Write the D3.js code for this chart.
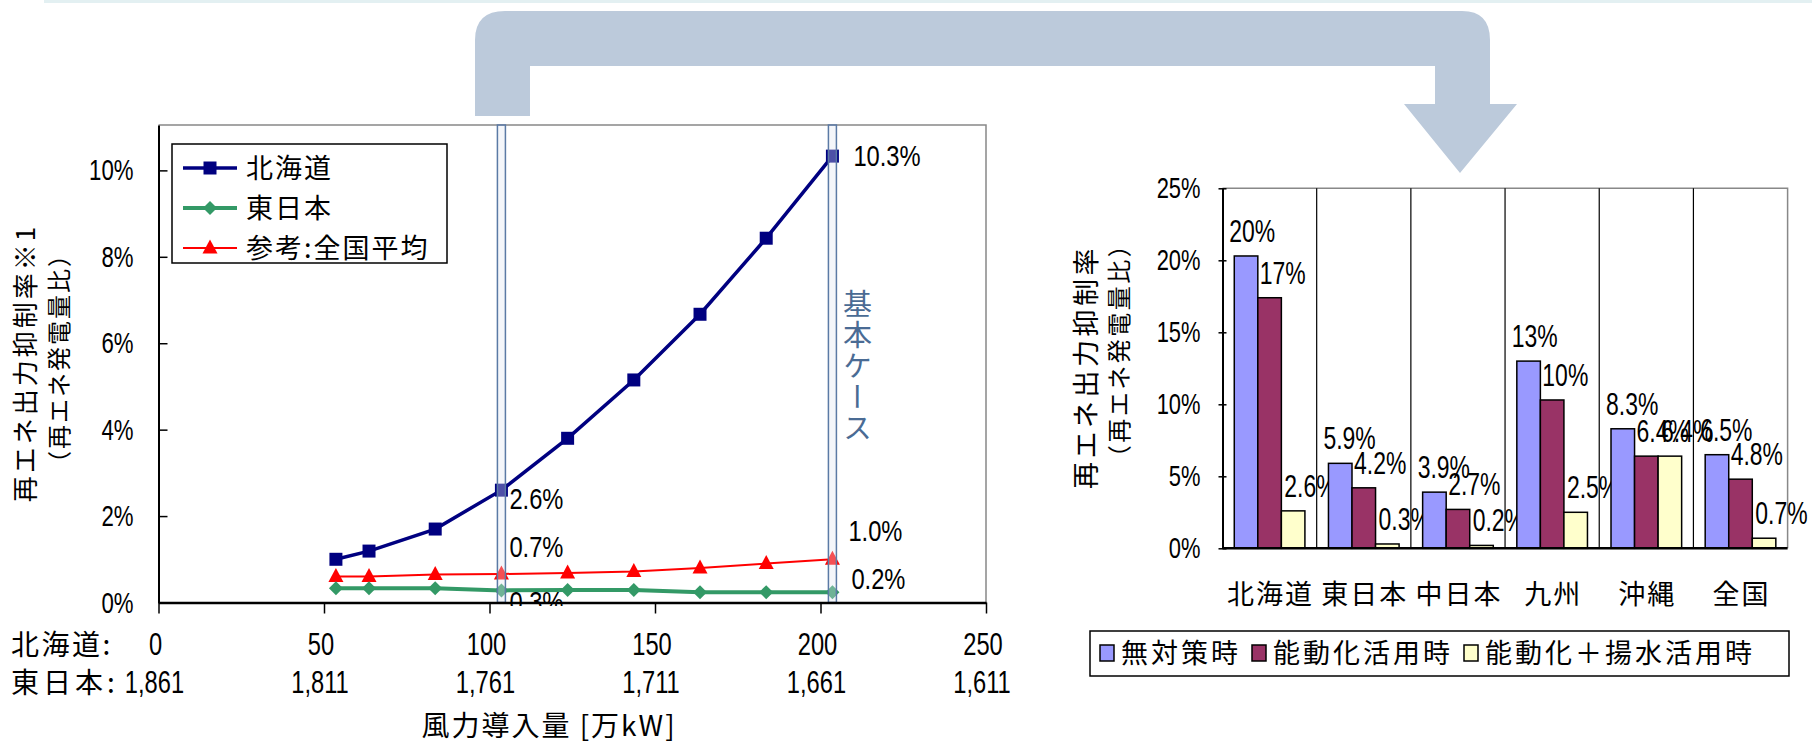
<!DOCTYPE html>
<html><head><meta charset="utf-8">
<script src="https://cdn.jsdelivr.net/npm/d3@7"></script>
<style>
body{margin:0;background:#fff;}
svg{display:block;}
.num{font-family:'Liberation Sans',Arial,sans-serif;}
.jp{font-family:'Noto Sans CJK JP',sans-serif;}
</style></head><body>
<svg width="1812" height="744"></svg>
<script>
// left chart: wind capacity vs curtailment rate
var windHokkaido = [53.6, 63.6, 83.6, 103.6, 123.6, 143.6, 163.6, 183.6, 203.6];
var higashiBase = 1861;
var curtHokkaido = [1.0, 1.19, 1.7, 2.6, 3.8, 5.15, 6.67, 8.43, 10.33];
var curtHigashi = [0.33, 0.33, 0.33, 0.28, 0.29, 0.29, 0.24, 0.24, 0.24];
var curtNational = [0.6, 0.6, 0.65, 0.66, 0.68, 0.72, 0.8, 0.9, 1.0];
var lineNames = ["北海道", "東日本", "参考:全国平均"];
var xTicks = [0, 50, 100, 150, 200, 250];
var yTicksLeft = [0, 2, 4, 6, 8, 10];
var caseX = [103.6, 203.6];

// right chart: curtailment by region
var regions = ["北海道", "東日本", "中日本", "九州", "沖縄", "全国"];
var barNames = ["無対策時", "能動化活用時", "能動化＋揚水活用時"];
var noMeasure = [20.3, 5.9, 3.9, 13.0, 8.3, 6.5];
var activeUse = [17.4, 4.2, 2.7, 10.3, 6.4, 4.8];
var activePumped = [2.6, 0.3, 0.2, 2.5, 6.4, 0.7];
var yTicksRight = [0, 5, 10, 15, 20, 25];

var svg = d3.select("svg");

// squeeze latin numbers to look like a narrow font
function narrow(sel, f) {
  sel.each(function(){
    var w = this.getComputedTextLength();
    this.setAttribute("textLength", w * (f || 0.82));
    this.setAttribute("lengthAdjust", "spacingAndGlyphs");
  });
}

// decorations
svg.append("rect").attr("x", 44).attr("y", 0).attr("width", 1768).attr("height", 3).attr("fill", "#e3f0f2");
svg.append("path")
    .attr("d", "M475,116 L475,40 Q475,11 505,11 L1462,11 Q1490,11 1490,40 L1490,104 L1517,104 L1460,173 L1404,104 L1435,104 L1435,66 L530,66 L530,116 Z")
    .attr("fill", "#bccadb");

// ---------- left line chart ----------
var xL = d3.scaleLinear().domain([0, 250]).range([158.5, 986]),
    yL = d3.scaleLinear().domain([0, 11.05]).range([602.5, 125]);

var series = [
  {name: lineNames[0], vals: curtHokkaido, color: "#000080", width: 3.5, marker: "M-6.5,-6.5h13v13h-13z"},
  {name: lineNames[1], vals: curtHigashi, color: "#339966", width: 4, marker: "M0,-7L7,0L0,7L-7,0Z"},
  {name: lineNames[2], vals: curtNational, color: "#ff0000", width: 2, marker: "M0,-8.5L7.5,5.5L-7.5,5.5Z"}
];

var gL = svg.append("g");
gL.append("path")
    .attr("d", "M" + xL(0) + "," + yL.range()[1] + "H" + xL(250) + "V" + yL(0))
    .attr("fill", "none").attr("stroke", "#888").attr("stroke-width", 1.5);

var line = d3.line()
    .x(function(d, i){ return xL(windHokkaido[i]); })
    .y(function(d){ return yL(d); });

series.slice().reverse().forEach(function(s){
  gL.append("path").attr("d", line(s.vals)).attr("fill", "none")
      .attr("stroke", s.color).attr("stroke-width", s.width);
  gL.selectAll(null).data(s.vals).enter().append("path")
      .attr("d", s.marker)
      .attr("transform", function(d, i){ return "translate(" + xL(windHokkaido[i]) + "," + yL(d) + ")"; })
      .attr("fill", s.color);
});

// value labels (series index, point index, offset)
var lineLabels = [
  [0, 3, 8, 19], [0, 8, 21, 10],
  [2, 3, 8, -17], [2, 8, 16, -18],
  [1, 3, 8, 22], [1, 8, 19, -3]
];
svg.append("clipPath").attr("id", "plotclip").append("rect")
    .attr("x", 0).attr("y", 0).attr("width", 1000).attr("height", 606);
gL.append("g").attr("clip-path", "url(#plotclip)")
  .selectAll("text").data(lineLabels).enter().append("text")
    .attr("class", "num")
    .attr("x", function(d){ return xL(windHokkaido[d[1]]) + d[2]; })
    .attr("y", function(d){ return yL(series[d[0]].vals[d[1]]) + d[3]; })
    .attr("font-size", 30)
    .text(function(d){ return series[d[0]].vals[d[1]].toFixed(1) + "%"; })
    .call(narrow, 0.79);

// base-case highlight boxes
gL.selectAll(".case").data(caseX).enter().append("rect")
    .attr("x", function(d){ return xL(d) - 4; })
    .attr("y", yL.range()[1])
    .attr("width", 8)
    .attr("height", yL(0) - yL.range()[1])
    .attr("fill", "#dfe6f0").attr("fill-opacity", 0.35)
    .attr("stroke", "#5b7aa5").attr("stroke-width", 1.5);

gL.append("text").attr("class", "jp")
    .attr("x", xL(caseX[1]) + 25).attr("y", 289)
    .attr("font-size", 29).attr("letter-spacing", 2)
    .attr("fill", "#4a6b94")
    .style("writing-mode", "vertical-rl")
    .text("基本ケース");

// axes
var yAxisL = gL.append("g").attr("transform", "translate(" + xL(0) + ",0)")
    .call(d3.axisLeft(yL).tickValues(yTicksLeft).tickSize(-9).tickSizeOuter(0).tickPadding(25)
      .tickFormat(function(d){ return d + "%"; }));
yAxisL.select(".domain").attr("stroke-width", 2);
yAxisL.selectAll(".tick line").attr("stroke-width", 1.5);
yAxisL.selectAll("text").attr("class", "num").attr("font-size", 30).attr("fill", "#000").call(narrow, 0.74);

var xAxisL = gL.append("g").attr("transform", "translate(0," + yL(0) + ")")
    .call(d3.axisBottom(xL).tickValues(xTicks).tickSize(11).tickSizeOuter(0).tickFormat(""));
xAxisL.select(".domain").attr("stroke-width", 2.5);
xAxisL.selectAll(".tick line").attr("stroke-width", 1.5);

gL.selectAll(".xl1").data(xTicks).enter().append("text")
    .attr("class", "num").attr("text-anchor", "middle")
    .attr("x", function(d){ return xL(d) - 3; }).attr("y", 655)
    .attr("font-size", 32)
    .text(function(d){ return d; })
    .call(narrow, 0.74);
gL.selectAll(".xl2").data(xTicks).enter().append("text")
    .attr("class", "num").attr("text-anchor", "middle")
    .attr("x", function(d){ return xL(d) - 4; }).attr("y", 693)
    .attr("font-size", 32)
    .text(function(d){ return d3.format(",")(higashiBase - d); })
    .call(narrow, 0.74);
gL.append("text").attr("class", "jp").attr("x", 11).attr("y", 655)
    .attr("font-size", 28).attr("letter-spacing", 2.5).text("北海道:");
gL.append("text").attr("class", "jp").attr("x", 11).attr("y", 693)
    .attr("font-size", 28).attr("letter-spacing", 4).text("東日本:");
gL.append("text").attr("class", "jp").attr("text-anchor", "middle")
    .attr("x", 549).attr("y", 736).attr("font-size", 28).attr("letter-spacing", 2)
    .text("風力導入量 [万kW]");

gL.append("text").attr("class", "jp").attr("text-anchor", "middle")
    .attr("transform", "translate(35,363) rotate(-90)")
    .attr("font-size", 26).attr("letter-spacing", 3)
    .text("再エネ出力抑制率※1");
gL.append("text").attr("class", "jp").attr("text-anchor", "middle")
    .attr("transform", "translate(68,358) rotate(-90)")
    .attr("font-size", 24).attr("letter-spacing", 2)
    .text("（再エネ発電量比）");

// legend
var lg = gL.append("g");
lg.append("rect").attr("x", 172).attr("y", 144).attr("width", 275).attr("height", 119)
    .attr("fill", "#fff").attr("stroke", "#000").attr("stroke-width", 1.5);
series.forEach(function(s, i){
  var yy = 168 + i * 40;
  lg.append("line").attr("x1", 183).attr("x2", 237).attr("y1", yy).attr("y2", yy)
      .attr("stroke", s.color).attr("stroke-width", s.width);
  lg.append("path").attr("d", s.marker).attr("transform", "translate(210," + yy + ")").attr("fill", s.color);
  lg.append("text").attr("class", "jp").attr("x", 246).attr("y", yy + 10)
      .attr("font-size", 27).attr("letter-spacing", 2).text(s.name);
});

// ---------- right bar chart ----------
var barVals = [noMeasure, activeUse, activePumped];
var barColors = ["#9999ff", "#993366", "#ffffcc"];
var labelDx = [-5, 2, 3];

var x0 = d3.scaleBand().domain(regions).range([1222.5, 1787.6]),
    x1 = d3.scaleBand().domain([0, 1, 2]).range([x0.bandwidth() * 0.125, x0.bandwidth() * 0.875]),
    yR = d3.scaleLinear().domain([0, 25]).range([548.3, 188.3]);

var gR = svg.append("g");
gR.append("path")
    .attr("d", "M" + x0.range()[0] + "," + yR(25) + "H" + x0.range()[1] + "V" + yR(0))
    .attr("fill", "none").attr("stroke", "#888").attr("stroke-width", 1.5);
gR.selectAll(".div").data(regions.slice(1)).enter().append("line")
    .attr("x1", function(d){ return x0(d); }).attr("x2", function(d){ return x0(d); })
    .attr("y1", yR(25)).attr("y2", yR(0))
    .attr("stroke", "#000").attr("stroke-width", 1.2);

var groups = gR.selectAll(".grp").data(regions).enter().append("g")
    .attr("transform", function(d){ return "translate(" + x0(d) + ",0)"; });

groups.selectAll("rect").data(function(d, i){ return barVals.map(function(v, k){ return {k: k, v: v[i]}; }); })
  .enter().append("rect")
    .attr("x", function(d){ return x1(d.k); })
    .attr("y", function(d){ return yR(d.v); })
    .attr("width", x1.bandwidth())
    .attr("height", function(d){ return yR(0) - yR(d.v); })
    .attr("fill", function(d){ return barColors[d.k]; })
    .attr("stroke", "#000").attr("stroke-width", 1.5);

groups.selectAll("text").data(function(d, i){ return barVals.map(function(v, k){ return {k: k, v: v[i]}; }); })
  .enter().append("text")
    .attr("class", "num")
    .attr("x", function(d){ return x1(d.k) + labelDx[d.k]; })
    .attr("y", function(d){ return yR(d.v) - 14; })
    .attr("font-size", 31)
    .text(function(d){ return (d.v >= 10 ? Math.round(d.v) : d.v.toFixed(1)) + "%"; })
    .call(narrow, 0.74);

var yAxisR = gR.append("g").attr("transform", "translate(" + x0.range()[0] + ",0)")
    .call(d3.axisLeft(yR).tickValues(yTicksRight).tickSize(4).tickSizeOuter(0).tickPadding(18)
      .tickFormat(function(d){ return d + "%"; }));
yAxisR.select(".domain").attr("stroke-width", 2);
yAxisR.selectAll(".tick line").attr("x1", 4).attr("stroke-width", 1.5);
yAxisR.selectAll("text").attr("class", "num").attr("font-size", 30).attr("fill", "#000").call(narrow, 0.73);
gR.append("line").attr("x1", x0.range()[0]).attr("x2", x0.range()[1])
    .attr("y1", yR(0)).attr("y2", yR(0)).attr("stroke", "#000").attr("stroke-width", 2.5);

gR.selectAll(".cat").data(regions).enter().append("text")
    .attr("class", "jp").attr("text-anchor", "middle")
    .attr("x", function(d){ return x0(d) + x0.bandwidth() / 2 + 1; })
    .attr("y", 604).attr("font-size", 27).attr("letter-spacing", 2)
    .text(function(d){ return d; });

gR.append("text").attr("class", "jp").attr("text-anchor", "middle")
    .attr("transform", "translate(1096,367) rotate(-90)")
    .attr("font-size", 27).attr("letter-spacing", 3.5)
    .text("再エネ出力抑制率");
gR.append("text").attr("class", "jp").attr("text-anchor", "middle")
    .attr("transform", "translate(1128,350) rotate(-90)")
    .attr("font-size", 24).attr("letter-spacing", 2.5)
    .text("（再エネ発電量比）");

var lgR = gR.append("g");
lgR.append("rect").attr("x", 1090).attr("y", 631).attr("width", 699).attr("height", 45)
    .attr("fill", "#fff").attr("stroke", "#000").attr("stroke-width", 1.5);
var lx = 1100;
barNames.forEach(function(n, k){
  lgR.append("rect").attr("x", lx).attr("y", 645).attr("width", 14).attr("height", 16)
      .attr("fill", barColors[k]).attr("stroke", "#000").attr("stroke-width", 1.5);
  var t = lgR.append("text").attr("class", "jp").attr("x", lx + 21).attr("y", 663)
      .attr("font-size", 27).attr("letter-spacing", 3).text(n);
  lx = lx + 21 + t.node().getComputedTextLength() + 11;
});
</script>
</body></html>
